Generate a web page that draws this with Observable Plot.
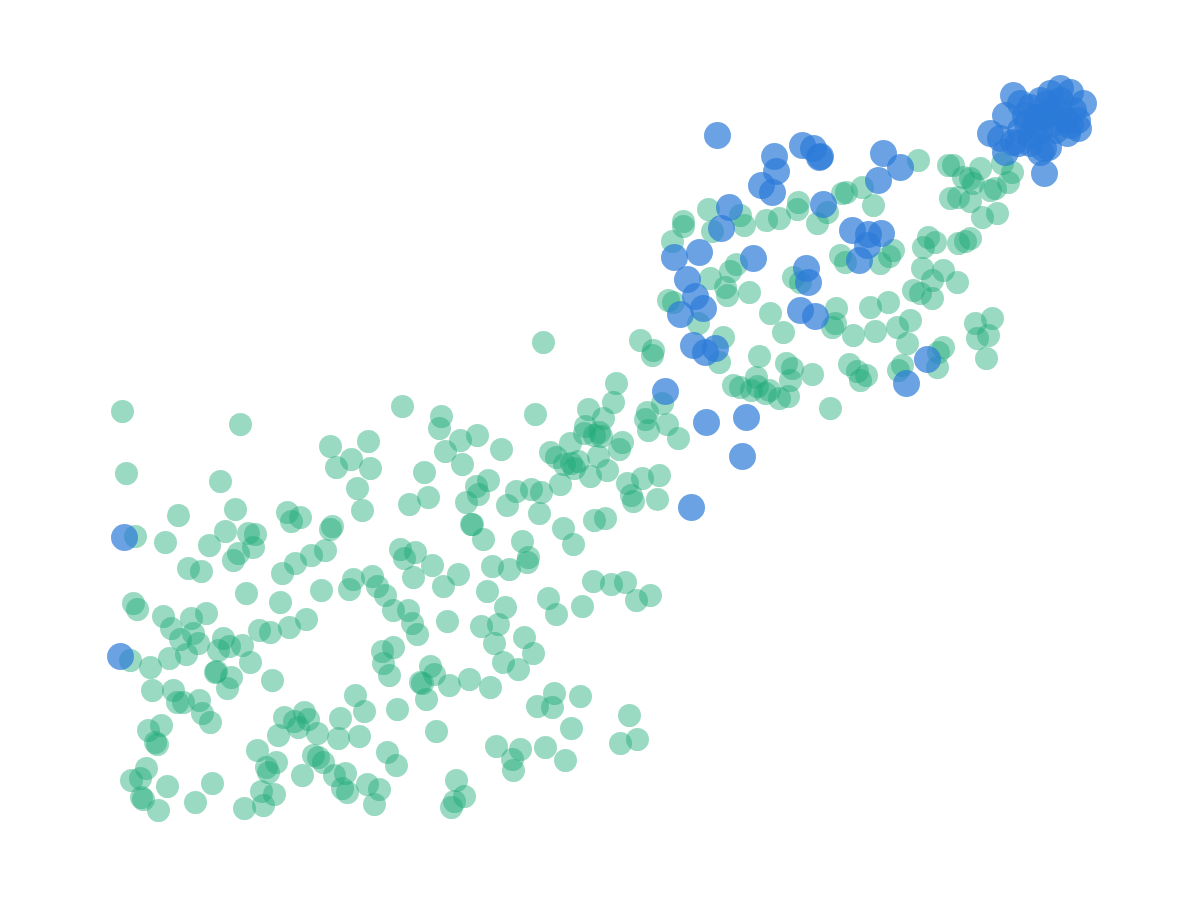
<!DOCTYPE html>
<html>
<head>
<meta charset="utf-8">
<script src="https://cdn.jsdelivr.net/npm/d3@7"></script>
<script src="https://cdn.jsdelivr.net/npm/@observablehq/plot@0.6"></script>
<style>
  html, body { margin: 0; padding: 0; background: #ffffff; }
  #chart { width: 1200px; height: 900px; }
</style>
</head>
<body>
<div id="chart"></div>
<script>
// Series A (green) points [x, y]
const greenPoints = [
  [2.2,43.9],[14.0,42.6],[2.6,37.7],[12.0,36.9],[13.5,34.1],[7.8,33.5],[23.0,40.4],[26.8,40.9],[25.1,39.1],[23.6,38.3],
  [27.0,38.2],[25.7,36.2],[26.2,34.0],[30.2,44.4],[3.5,31.4],[6.5,30.8],[12.5,31.9],[14.8,31.7],[15.5,31.6],[10.9,30.5],
  [15.3,30.3],[13.8,29.7],[13.3,29.0],[8.8,28.2],[10.1,27.9],[18.7,33.8],[20.0,33.3],[19.1,32.9],[23.0,32.1],[23.2,32.4],
  [22.5,30.0],[21.1,29.5],[19.5,28.7],[18.2,27.7],[22.1,26.0],[25.3,27.1],[24.9,26.1],[27.2,27.4],[27.7,26.4],[28.5,25.5],
  [14.6,25.7],[18.0,24.8],[3.3,24.7],[3.7,24.1],[6.3,23.4],[9.1,23.2],[10.6,23.7],[7.1,22.2],[8.0,21.1],[9.3,21.7],
  [9.8,20.7],[8.6,19.6],[12.3,21.2],[11.8,20.0],[12.9,20.4],[14.2,20.5],[15.0,18.8],[15.9,22.0],[17.0,21.8],[18.9,22.3],
  [20.6,23.1],[3.0,19.0],[5.0,18.3],[6.9,19.2],[11.6,17.9],[11.5,17.8],[13.1,17.3],[12.7,16.2],[17.2,17.0],[5.2,16.0],
  [7.3,16.0],[7.7,14.8],[8.3,14.8],[9.9,15.0],[10.2,13.7],[11.0,12.8],[4.8,12.0],[6.1,12.5],[5.5,10.8],[5.7,10.6],
  [4.6,8.2],[3.1,7.0],[4.0,7.2],[4.3,5.1],[4.1,5.3],[5.8,4.0],[6.7,6.4],[9.5,4.8],[11.2,6.7],[15.7,10.0],
  [16.6,8.3],[17.6,8.8],[16.8,7.8],[16.1,5.9],[17.4,5.6],[16.3,4.5],[14.4,4.2],[18.4,13.3],[19.4,12.9],[20.4,13.8],
  [20.8,13.1],[19.8,12.3],[21.7,11.7],[17.8,11.5],[24.0,13.2],[23.8,11.2],[25.9,11.4],[25.5,15.5],[26.4,13.9],[21.3,9.5],
  [21.8,9.3],[22.3,8.8],[23.4,7.5],[20.2,7.5],[24.5,7.7],[24.2,6.2],[24.7,5.8],[26.7,6.6],[27.9,6.1],[27.4,4.6],
  [28.2,19.9],[29.3,20.3],[28.3,18.7],[28.9,17.5],[29.7,14.1],[28.7,9.8],[29.6,8.5],
  [34.1,43.4],[33.9,42.2],[43.5,43.6],[51.6,46.7],[51.3,44.8],[48.8,44.1],[50.3,43.2],[48.5,42.4],[48.4,41.7],[49.9,41.8],
  [49.4,41.5],[50.1,41.4],[54.7,43.8],[54.5,43.1],[56.2,44.7],[54.8,42.0],[56.7,42.6],[57.8,41.2],[36.0,41.0],[37.7,41.5],
  [34.5,39.9],[36.2,38.6],[40.1,40.1],[32.4,37.8],[32.8,35.3],[30.9,34.6],[45.0,39.8],[45.6,39.3],[47.0,40.7],[46.4,38.6],
  [47.8,38.9],[47.1,38.7],[47.4,38.2],[51.9,40.1],[52.2,40.8],[49.0,37.4],[50.7,38.0],[49.8,39.4],[38.8,37.0],[37.6,36.4],
  [37.8,35.6],[36.6,34.8],[41.6,35.9],[43.1,36.1],[44.1,35.8],[40.7,34.5],[43.9,33.7],[46.0,36.6],[52.7,36.7],[54.2,37.2],
  [55.9,37.5],[53.1,35.5],[53.3,34.9],[55.7,35.1],[37.2,32.6],[37.1,32.6],[38.3,31.1],[46.3,32.2],[47.3,30.6],[49.4,33.0],
  [50.5,33.2],[30.0,30.1],[30.4,29.2],[31.5,29.8],[33.2,28.5],[31.3,27.3],[35.8,27.6],[34.3,26.4],[39.2,28.4],[40.9,28.1],
  [42.2,30.9],[42.7,28.8],[42.8,29.3],[38.7,25.9],[44.8,25.2],[49.3,26.9],[51.1,26.6],[52.5,26.8],[53.6,25.0],[55.0,25.5],
  [29.3,24.0],[30.8,24.0],[31.2,22.7],[31.7,21.6],[34.7,22.9],[38.1,22.4],[39.8,22.6],[39.4,20.7],[40.5,24.3],[45.6,23.6],
  [48.2,24.4],[42.4,21.3],[43.3,19.7],[40.3,18.8],[41.8,18.1],[33.0,18.4],[33.4,17.6],[32.0,16.8],[32.2,16.7],[32.6,15.1],
  [34.9,16.5],[36.9,17.1],[39.0,16.3],[33.6,11.9],[45.4,15.7],[43.7,14.4],[45.2,14.3],[48.0,15.4],[47.1,12.2],[52.9,13.5],
  [52.0,10.7],[53.7,11.1],[39.6,10.4],[42.0,10.1],[41.2,9.1],[41.3,8.0],[44.5,10.3],[46.5,9.0],[35.6,7.0],[36.4,5.4],
  [35.4,4.9],[35.1,4.3],
  [76.2,66.3],[77.3,64.5],[74.2,65.7],[74.6,65.8],[72.7,63.8],[71.7,62.7],[69.8,64.8],[69.7,64.1],[67.9,63.2],[66.6,63.0],
  [64.0,63.5],[64.4,62.5],[60.8,64.1],[58.3,62.9],[58.3,62.4],[61.2,61.9],[57.2,60.9],[63.6,58.6],[63.0,57.9],[61.0,57.2],
  [62.5,56.3],[62.7,55.5],[64.9,55.8],[56.8,55.0],[57.3,54.8],[67.0,53.7],[69.3,57.3],[70.0,56.8],[74.0,59.5],[74.5,58.8],
  [78.0,58.7],[78.9,59.4],[73.6,54.2],[77.0,54.3],[78.8,54.8],[59.8,52.7],[73.2,52.3],[73.5,52.7],[75.3,51.5],[77.5,51.9],
  [68.3,51.8],[55.3,50.0],[55.2,49.5],[54.0,51.0],[62.3,51.3],[61.9,48.8],[65.9,49.4],[68.6,48.7],[69.2,48.2],[69.0,47.0],
  [71.2,47.6],[63.3,46.5],[64.0,46.3],[65.1,46.0],[65.6,47.3],[65.7,46.4],[66.5,45.7],[66.9,46.0],[67.9,45.2],[68.8,45.4],
  [74.9,48.6],[75.7,47.9],[76.6,47.5],[76.0,47.0],[73.0,44.2],[44.3,50.8],
  [81.8,69.0],[84.8,68.5],[85.3,68.5],[86.3,67.3],[87.0,67.2],[88.0,68.2],[87.3,66.7],[89.0,66.0],[89.5,66.2],[90.2,68.7],
  [91.2,67.8],[90.8,66.8],[85.0,65.2],[85.8,65.3],[87.0,64.9],[88.2,63.3],[89.7,63.7],[82.8,61.3],[82.3,60.3],[83.5,60.8],
  [85.8,60.7],[87.0,61.2],[86.5,60.9],[82.2,58.2],[84.3,58.0],[79.3,60.0],[81.3,56.0],[82.0,55.7],[83.2,57.0],[85.7,56.8],
  [83.2,55.2],[81.0,53.0],[79.7,52.3],[80.7,50.7],[87.5,52.7],[89.2,53.2],[88.8,51.5],[87.7,51.2],[88.6,49.2],[84.3,50.3],
  [83.8,49.8],[83.7,48.3],[80.2,48.5],[79.8,48.0]
];

// Series B (blue) points [x, y]
const bluePoints = [
  [2.4,31.3],[2.0,19.4],[61.7,71.5],[67.4,69.4],[67.6,67.9],[70.2,70.5],[71.3,70.2],[72.0,69.4],[71.9,69.3],[66.1,66.5],
  [67.2,65.8],[78.3,69.7],[77.8,67.0],[80.0,68.3],[72.3,64.6],[62.9,64.3],[62.1,62.2],[57.4,59.3],[59.9,59.8],[65.3,59.2],
  [58.7,57.1],[59.5,55.4],[58.0,53.6],[60.3,54.2],[70.6,58.2],[70.8,56.8],[75.2,62.0],[76.8,61.6],[78.1,61.7],[75.9,59.0],
  [76.7,60.5],[70.0,54.0],[71.5,53.4],[59.3,50.5],[60.5,49.8],[61.5,50.2],[56.5,45.9],[60.6,42.8],[64.6,43.3],[64.2,39.4],
  [59.1,34.3],[82.7,49.1],[80.6,46.7],
  [91.3,75.5],[92.0,74.7],[95.0,75.7],[96.0,76.2],[97.0,75.8],[98.3,74.7],[90.5,73.5],[89.0,71.7],[90.0,71.2],[91.3,70.8],
  [93.0,70.7],[94.3,70.2],[94.8,70.3],[90.5,69.8],[97.8,72.2],[96.7,71.7],[94.4,67.7],[93.0,74.3],[93.7,73.3],[94.7,74.7],
  [96.0,73.7],[95.3,72.7],[92.7,72.7],[97.3,74.0],[97.7,73.0],[94.0,72.0],[92.0,72.0],
  [92.5,73.5],[93.5,72.5],[94.5,73.5],[95.5,72.0],[96.5,73.0],[95.0,74.0],[93.0,71.5],[96.0,75.0],[94.0,75.0],[97.0,72.5],
  [91.8,70.7],[94.0,69.8]
];

const xDomain = [0, 100];
const yDomain = [0, 80];

const chart = Plot.plot({
  width: 1200,
  height: 900,
  marginLeft: 100,
  marginRight: 100,
  marginTop: 50,
  marginBottom: 50,
  x: {domain: xDomain, axis: null},
  y: {domain: yDomain, axis: null},
  style: {background: "#ffffff"},
  marks: [
    Plot.dot(greenPoints, {x: d => d[0], y: d => d[1], r: 11.5, fill: "#1eaa78", fillOpacity: 0.45, stroke: "none"}),
    Plot.dot(bluePoints, {x: d => d[0], y: d => d[1], r: 13.5, fill: "#2b7bd8", fillOpacity: 0.7, stroke: "none"})
  ]
});
document.getElementById("chart").appendChild(chart);
</script>
</body>
</html>
